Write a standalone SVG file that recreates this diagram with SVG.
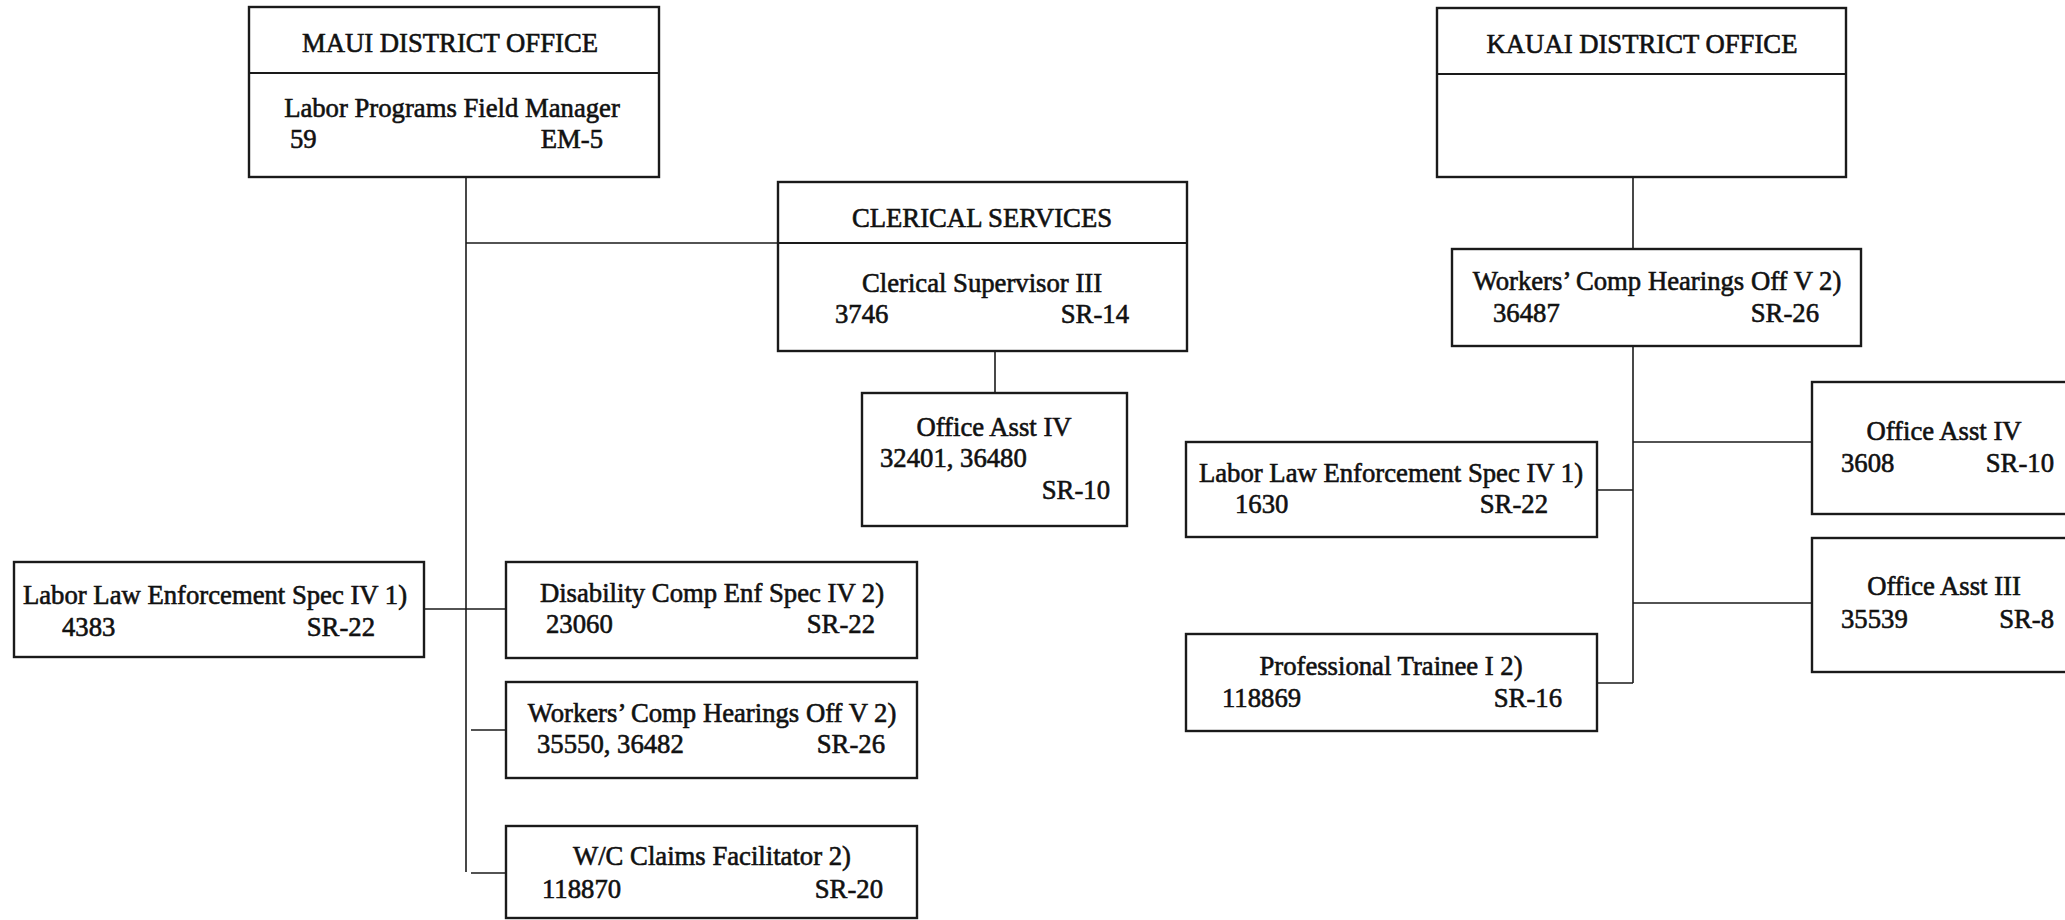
<svg xmlns="http://www.w3.org/2000/svg" width="2065" height="920" viewBox="0 0 2065 920">
<style>
.box{fill:#fff;stroke:#1a1a1a;stroke-width:2.4}
.div{stroke:#1a1a1a;stroke-width:2}
.ln{fill:none;stroke:#1a1a1a;stroke-width:1.6}
text{font-family:"Liberation Serif","Times New Roman",serif;font-size:26.7px;fill:#111;stroke:#111;stroke-width:0.6}
.c{text-anchor:middle}
.e{text-anchor:end}
</style>
<rect width="2065" height="920" fill="#fff"/>
<g id="connectors">
<path class="ln" d="M466 177 V872"/>
<path class="ln" d="M466 243 H778"/>
<path class="ln" d="M424 609 H506"/>
<path class="ln" d="M471 730 H506"/>
<path class="ln" d="M471 873 H506"/>
<path class="ln" d="M995 351 V393"/>
<path class="ln" d="M1633 177 V249"/>
<path class="ln" d="M1633 346 V683"/>
<path class="ln" d="M1597 490 H1633"/>
<path class="ln" d="M1597 683 H1633"/>
<path class="ln" d="M1633 442 H1812"/>
<path class="ln" d="M1633 603 H1812"/>
</g>
<g id="maui">
<rect class="box" x="249" y="7" width="410" height="170"/>
<line class="div" x1="249" y1="73" x2="659" y2="73"/>
<text class="c" x="450" y="52">MAUI DISTRICT OFFICE</text>
<text class="c" x="452" y="117">Labor Programs Field Manager</text>
<text x="290" y="148">59</text>
<text class="e" x="603" y="148">EM-5</text>
</g>
<g id="clerical">
<rect class="box" x="778" y="182" width="409" height="169"/>
<line class="div" x1="778" y1="243" x2="1187" y2="243"/>
<text class="c" x="982" y="227">CLERICAL SERVICES</text>
<text class="c" x="982" y="292">Clerical Supervisor III</text>
<text x="835" y="323">3746</text>
<text class="e" x="1129" y="323">SR-14</text>
</g>
<g id="maui-office-asst-iv">
<rect class="box" x="862" y="393" width="265" height="133"/>
<text class="c" x="994" y="436">Office Asst IV</text>
<text x="880" y="467">32401, 36480</text>
<text class="e" x="1110" y="499">SR-10</text>
</g>
<g id="maui-labor-law">
<rect class="box" x="14" y="562" width="410" height="95"/>
<text class="c" x="215" y="604">Labor Law Enforcement Spec IV 1)</text>
<text x="62" y="636">4383</text>
<text class="e" x="375" y="636">SR-22</text>
</g>
<g id="maui-disability">
<rect class="box" x="506" y="562" width="411" height="96"/>
<text class="c" x="712" y="602">Disability Comp Enf Spec IV 2)</text>
<text x="546" y="633">23060</text>
<text class="e" x="875" y="633">SR-22</text>
</g>
<g id="maui-workers-comp">
<rect class="box" x="506" y="682" width="411" height="96"/>
<text class="c" x="712" y="722">Workers’ Comp Hearings Off V 2)</text>
<text x="537" y="753">35550, 36482</text>
<text class="e" x="885" y="753">SR-26</text>
</g>
<g id="maui-wc-claims">
<rect class="box" x="506" y="826" width="411" height="92"/>
<text class="c" x="712" y="865">W/C Claims Facilitator 2)</text>
<text x="542" y="898">118870</text>
<text class="e" x="883" y="898">SR-20</text>
</g>
<g id="kauai">
<rect class="box" x="1437" y="8" width="409" height="169"/>
<line class="div" x1="1437" y1="74" x2="1846" y2="74"/>
<text class="c" x="1642" y="53">KAUAI DISTRICT OFFICE</text>
</g>
<g id="kauai-workers-comp">
<rect class="box" x="1452" y="249" width="409" height="97"/>
<text class="c" x="1657" y="290">Workers’ Comp Hearings Off V 2)</text>
<text x="1493" y="322">36487</text>
<text class="e" x="1819" y="322">SR-26</text>
</g>
<g id="kauai-labor-law">
<rect class="box" x="1186" y="442" width="411" height="95"/>
<text class="c" x="1391" y="482">Labor Law Enforcement Spec IV 1)</text>
<text x="1235" y="513">1630</text>
<text class="e" x="1548" y="513">SR-22</text>
</g>
<g id="kauai-trainee">
<rect class="box" x="1186" y="634" width="411" height="97"/>
<text class="c" x="1391" y="675">Professional Trainee I 2)</text>
<text x="1222" y="707">118869</text>
<text class="e" x="1562" y="707">SR-16</text>
</g>
<g id="kauai-office-asst-iv">
<rect class="box" x="1812" y="382" width="270" height="132"/>
<text class="c" x="1944" y="440">Office Asst IV</text>
<text x="1841" y="472">3608</text>
<text class="e" x="2054" y="472">SR-10</text>
</g>
<g id="kauai-office-asst-iii">
<rect class="box" x="1812" y="538" width="270" height="134"/>
<text class="c" x="1944" y="595">Office Asst III</text>
<text x="1841" y="628">35539</text>
<text class="e" x="2054" y="628">SR-8</text>
</g>
</svg>
